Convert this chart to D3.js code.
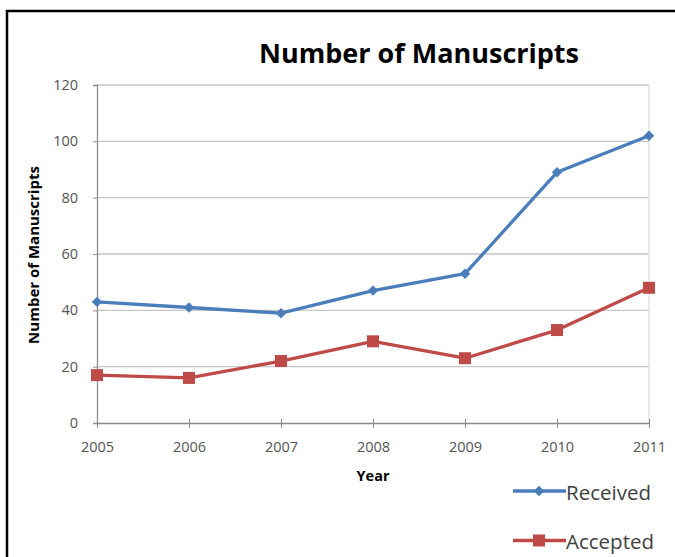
<!DOCTYPE html>
<html>
<head>
<meta charset="utf-8">
<script src="https://cdn.jsdelivr.net/npm/d3@7"></script>
<style>
  html, body { margin: 0; padding: 0; background: #fff; }
  svg { display: block; font-family: "Open Sans", Lato, sans-serif; }
</style>
</head>
<body>
<svg id="chart" width="675" height="557"></svg>
<script>
// Manuscript counts per year
const years = ["2005", "2006", "2007", "2008", "2009", "2010", "2011"];
const received = [43, 41, 39, 47, 53, 89, 102];
const accepted = [17, 16, 22, 29, 23, 33, 48];
const yTicks = [0, 20, 40, 60, 80, 100, 120];
const seriesNames = ["Received", "Accepted"];
const seriesColors = ["#4a7ebb", "#be4b48"];

const svg = d3.select("#chart");
const W = 675, H = 557;
const plot = { left: 97, right: 649, top: 85, bottom: 423 };

// outer frame (extends past the right and bottom edges)
svg.append("rect")
  .attr("x", 7).attr("y", 11)
  .attr("width", W + 10).attr("height", H + 10)
  .attr("fill", "#fff").attr("stroke", "#000").attr("stroke-width", 2.5);

const x = d3.scalePoint().domain(years).range([plot.left, plot.right]);
const y = d3.scaleLinear().domain([0, 120]).range([plot.bottom, plot.top]);

// horizontal gridlines
svg.append("g")
  .selectAll("line")
  .data(yTicks.filter(d => d > 0))
  .join("line")
  .attr("x1", plot.left).attr("x2", plot.right)
  .attr("y1", d => y(d)).attr("y2", d => y(d))
  .attr("stroke", "#c6c6c6").attr("stroke-width", 1.3);

// right edge of plot area
svg.append("line")
  .attr("x1", plot.right).attr("x2", plot.right)
  .attr("y1", plot.top).attr("y2", plot.bottom)
  .attr("stroke", "#d4d4d4").attr("stroke-width", 1);

// y axis
const yAxis = svg.append("g")
  .attr("transform", `translate(${plot.left},0)`)
  .call(d3.axisLeft(y).tickValues(yTicks).tickSize(4).tickPadding(15));
yAxis.select(".domain").attr("stroke", "#8c8c8c").attr("stroke-width", 1.3);
yAxis.selectAll(".tick line").attr("stroke", "#8c8c8c");
yAxis.selectAll(".tick text")
  .attr("fill", "#555").attr("font-size", 14.5)
  .attr("font-family", "'Open Sans', sans-serif");

// x axis with ticks crossing the axis line
const xAxis = svg.append("g")
  .attr("transform", `translate(0,${plot.bottom})`)
  .call(d3.axisBottom(x).tickSizeInner(5).tickSizeOuter(0).tickPadding(14));
xAxis.select(".domain").attr("stroke", "#8c8c8c").attr("stroke-width", 1.3);
xAxis.selectAll(".tick line").attr("stroke", "#8c8c8c").attr("y1", -4);
xAxis.selectAll(".tick text")
  .attr("fill", "#555").attr("font-size", 14.5)
  .attr("font-family", "'Open Sans', sans-serif");

// title
svg.append("text")
  .attr("x", 419).attr("y", 63)
  .attr("text-anchor", "middle")
  .attr("font-weight", "bold").attr("font-size", 27)
  .attr("fill", "#000")
  .text("Number of Manuscripts");

// axis titles
svg.append("text")
  .attr("transform", "translate(39,255) rotate(-90)")
  .attr("text-anchor", "middle")
  .attr("font-weight", "bold").attr("font-size", 15)
  .attr("fill", "#000")
  .text("Number of Manuscripts");

svg.append("text")
  .attr("x", 373).attr("y", 481)
  .attr("text-anchor", "middle")
  .attr("font-weight", "bold").attr("font-size", 14.5)
  .attr("fill", "#000")
  .text("Year");

// series lines and markers
const line = d3.line().x((d, i) => x(years[i])).y(d => y(d));
const series = [received, accepted];

series.forEach((vals, s) => {
  svg.append("path")
    .datum(vals)
    .attr("d", line)
    .attr("fill", "none")
    .attr("stroke", seriesColors[s])
    .attr("stroke-width", 3.3)
    .attr("stroke-linejoin", "round");
});

// diamonds for received
svg.append("g").selectAll("path")
  .data(received)
  .join("path")
  .attr("transform", (d, i) => `translate(${x(years[i])},${y(d)})`)
  .attr("d", d3.symbol(d3.symbolDiamond2, 70)())
  .attr("fill", seriesColors[0]);

// squares for accepted
svg.append("g").selectAll("rect")
  .data(accepted)
  .join("rect")
  .attr("x", (d, i) => x(years[i]) - 6)
  .attr("y", d => y(d) - 6)
  .attr("width", 12).attr("height", 12)
  .attr("fill", seriesColors[1]);

// legend
const legendRows = [{ y: 491 }, { y: 540.5 }];
seriesNames.forEach((name, s) => {
  const ly = legendRows[s].y;
  svg.append("line")
    .attr("x1", 513).attr("x2", 566)
    .attr("y1", ly).attr("y2", ly)
    .attr("stroke", seriesColors[s]).attr("stroke-width", 3.3);
  if (s === 0) {
    svg.append("path")
      .attr("transform", `translate(539,${ly})`)
      .attr("d", d3.symbol(d3.symbolDiamond2, 70)())
      .attr("fill", seriesColors[s]);
  } else {
    svg.append("rect")
      .attr("x", 533).attr("y", ly - 6)
      .attr("width", 12).attr("height", 12)
      .attr("fill", seriesColors[s]);
  }
  svg.append("text")
    .attr("x", 566).attr("y", ly + 8.5)
    .attr("font-size", 20.5)
    .attr("fill", "#404040")
    .text(name);
});
</script>
</body>
</html>
